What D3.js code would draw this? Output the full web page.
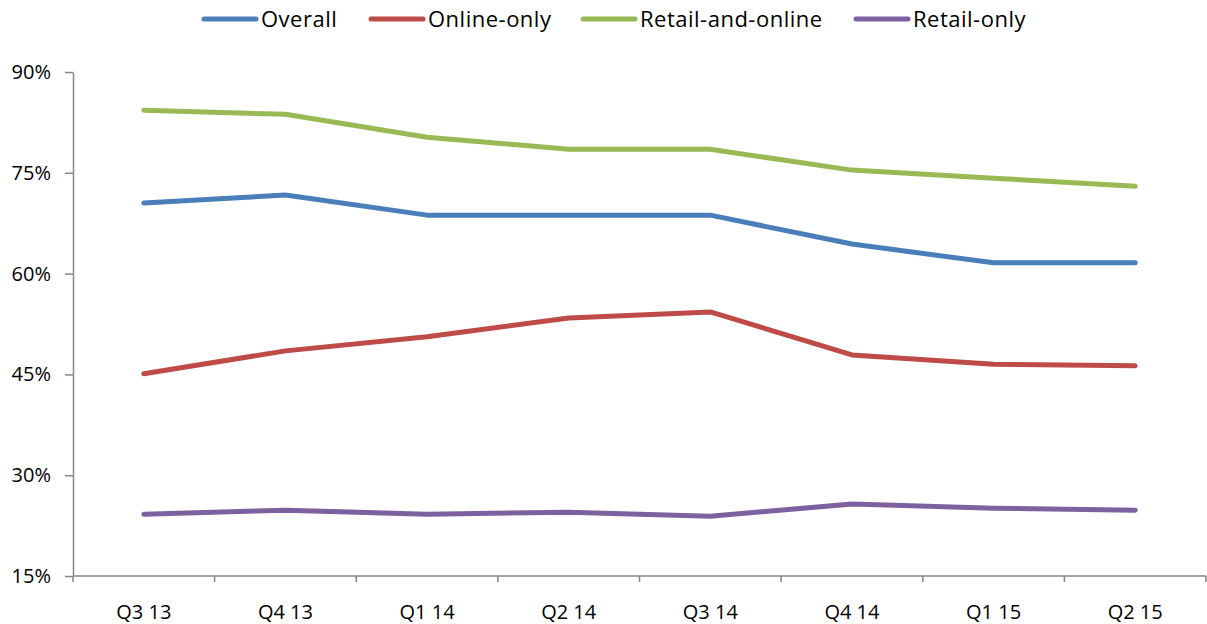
<!DOCTYPE html>
<html>
<head>
<meta charset="utf-8">
<script src="https://cdn.jsdelivr.net/npm/d3@7"></script>
<style>
  body { margin: 0; background: #fff; }
  svg text { font-family: "Open Sans", "Liberation Sans", sans-serif; fill: #000; }
</style>
</head>
<body>
<div id="chart"></div>
<script>
// chart data
const quarters = ["Q3 13", "Q4 13", "Q1 14", "Q2 14", "Q3 14", "Q4 14", "Q1 15", "Q2 15"];
const overall = [70.5, 71.7, 68.7, 68.7, 68.7, 64.4, 61.6, 61.6];
const onlineOnly = [45.1, 48.5, 50.6, 53.4, 54.3, 47.9, 46.5, 46.3];
const retailAndOnline = [84.3, 83.7, 80.3, 78.5, 78.5, 75.4, 74.2, 73.0];
const retailOnly = [24.2, 24.8, 24.2, 24.5, 23.9, 25.7, 25.1, 24.8];
const yTicks = [15, 30, 45, 60, 75, 90];

const series = [
  { name: "Overall", values: overall, color: "#4a7ebb" },
  { name: "Online-only", values: onlineOnly, color: "#be4b48" },
  { name: "Retail-and-online", values: retailAndOnline, color: "#98b954" },
  { name: "Retail-only", values: retailOnly, color: "#7d60a0" }
];

const width = 1207, height = 624;
const margin = { left: 73, right: 1, top: 72, bottom: 48 };

const svg = d3.select("#chart").append("svg")
  .attr("width", width).attr("height", height);

const x = d3.scaleBand().domain(quarters)
  .range([margin.left, width - margin.right]);
const y = d3.scaleLinear().domain([15, 90])
  .range([height - margin.bottom, margin.top]);

// y axis
const yAxis = svg.append("g")
  .attr("transform", `translate(${margin.left},0)`)
  .call(d3.axisLeft(y).tickValues(yTicks).tickSize(8).tickSizeOuter(0)
    .tickFormat(d => d + "%"));
yAxis.select(".domain").attr("stroke", "#868686").attr("stroke-width", 1.5);
yAxis.selectAll(".tick line").attr("stroke", "#868686").attr("stroke-width", 1.5);
yAxis.selectAll(".tick text").attr("x", -22).attr("font-size", 20).attr("fill", "#000");

// x axis, ticks between categories
const xAxisG = svg.append("g")
  .attr("transform", `translate(0,${y(15)})`);
xAxisG.append("line")
  .attr("x1", margin.left).attr("x2", width - margin.right)
  .attr("stroke", "#868686").attr("stroke-width", 1.5);
const bounds = quarters.map(q => x(q)).concat([x(quarters[quarters.length - 1]) + x.bandwidth()]);
xAxisG.selectAll(".xt").data(bounds).join("line")
  .attr("x1", d => d).attr("x2", d => d)
  .attr("y1", 0).attr("y2", 6)
  .attr("stroke", "#868686").attr("stroke-width", 1.5);
xAxisG.selectAll("text").data(quarters).join("text")
  .attr("x", d => x(d) + x.bandwidth() / 2)
  .attr("y", 43)
  .attr("text-anchor", "middle")
  .attr("font-size", 20)
  .text(d => d);

// lines
const line = d3.line()
  .x((d, i) => x(quarters[i]) + x.bandwidth() / 2)
  .y(d => y(d));

svg.selectAll(".series").data(series).join("path")
  .attr("fill", "none")
  .attr("stroke", d => d.color)
  .attr("stroke-width", 5)
  .attr("stroke-linecap", "round")
  .attr("stroke-linejoin", "round")
  .attr("d", d => line(d.values));

// legend
const legendX = [204, 371, 583, 856];
const legend = svg.append("g");
const item = legend.selectAll("g").data(series).join("g")
  .attr("transform", (d, i) => `translate(${legendX[i]},19)`);
item.append("line")
  .attr("x1", 0).attr("x2", 52)
  .attr("stroke", d => d.color)
  .attr("stroke-width", 5)
  .attr("stroke-linecap", "round");
item.append("text")
  .attr("x", 57).attr("y", 8)
  .attr("font-size", 22)
  .attr("letter-spacing", 0.5)
  .text(d => d.name);
</script>
</body>
</html>
